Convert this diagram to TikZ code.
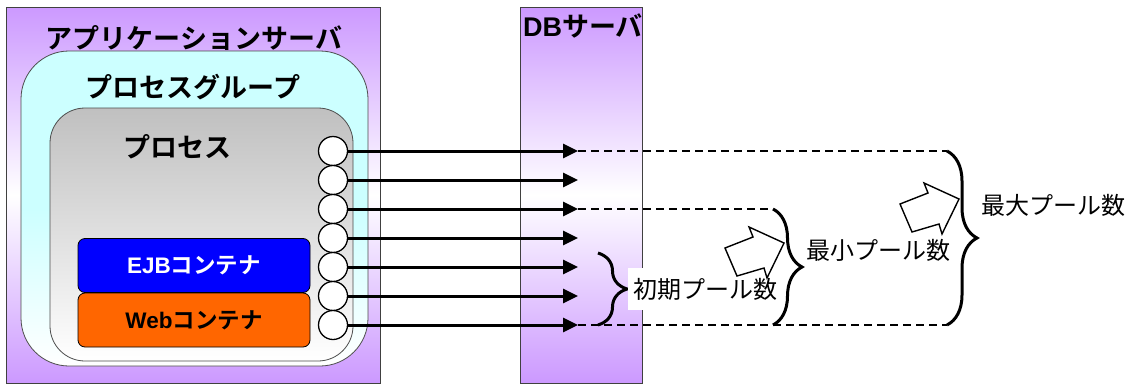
\documentclass[tikz,border=0pt]{standalone}
\usepackage{fontspec}
\usetikzlibrary{arrows.meta,decorations.pathreplacing}
\newfontfamily\jp{Noto Sans CJK JP}[BoldFont={Noto Sans CJK JP Bold}]
\newfontfamily\lat{Liberation Sans}
\definecolor{srvP}{RGB}{204,153,255}
\definecolor{grpC}{RGB}{204,255,255}
\definecolor{procG}{RGB}{192,192,192}
\definecolor{ejbB}{RGB}{0,0,255}
\definecolor{webO}{RGB}{255,102,0}
\tikzset{
  server/.style={draw=black!75, line width=0.8pt, top color=srvP, bottom color=srvP, middle color=white},
  title/.style={font=\jp\bfseries\fontsize{27}{30}\selectfont, inner sep=0pt},
  cont/.style={draw=black, line width=0.8pt, rounded corners=7pt, minimum width=232pt, minimum height=54pt, inner sep=0pt, font=\jp\bfseries\fontsize{22.5}{25}\selectfont},
  port/.style={circle, draw=black, fill=white, line width=1.3pt, minimum size=29pt, inner sep=0pt},
  conn/.style={line width=3pt, -{Triangle[length=15pt,width=14pt]}},
  guide/.style={line width=1.4pt, dash pattern=on 8pt off 5pt},
  brc/.style={line width=3pt, decorate, decoration={brace, amplitude=#1}},
  pool/.style={font=\jp\fontsize{24}{27}\selectfont, inner sep=0pt},
  blk/.style={draw=black, fill=white, line width=1.4pt, line join=miter}
}
\begin{document}
\begin{tikzpicture}[x=1pt,y=-1pt]
\useasboundingbox (0,0) rectangle (1134,383);
% servers
\path[server] (6,7) rectangle (380,383);
\path[server] (520,7) rectangle (642,383);
\node[title, anchor=west] (dbt) at (523,26) {{\lat DB}サーバ};
\node[title] (ast) at (194,38) {アプリケーションサーバ};
% process group
\path[draw=black!70, line width=0.8pt, rounded corners=48pt, top color=grpC, bottom color=white, middle color=grpC] (21,51) rectangle (368,366);
\node[title] (pgt) at (193,87) {プロセスグループ};
% process
\path[draw=black!70, line width=0.8pt, rounded corners=35pt, top color=procG, bottom color=white] (50,108) rectangle (353,361);
\node[title] (pt) at (177,147) {プロセス};
% containers
\node[cont, fill=ejbB, text=white] (ejb) at (194,265.5) {{\lat EJB}コンテナ};
\node[cont, fill=webO, text=black] (web) at (194,320) {{\lat Web}コンテナ};
% ports and connections
\foreach \i/\y in {1/151,2/180,3/209,4/238,5/267,6/296,7/325}{
  \coordinate (t\i) at (578,\y);
  \coordinate (s\i) at (348,\y);
  \draw[conn] (s\i) -- (t\i);
  \node[port] (c\i) at (333,\y) {};
}
% dashed guides
\coordinate (e1) at (947,151);
\coordinate (e3) at (773,209);
\coordinate (e7) at (947,325);
\draw[guide] (t1) -- (e1);
\draw[guide] (t3) -- (e3);
\draw[guide] (t7) -- (e7);
% braces
\coordinate (b1) at (598,253);
\coordinate (b2) at (598,325);
\coordinate (m2) at (773,325);
\draw[brc=29pt] (b1) -- (b2);
\draw[brc=29pt] (e3) -- (m2);
\draw[brc=30pt] (e1) -- (e7);
% labels
\node[pool, fill=white, minimum width=155pt, minimum height=42pt] (init) at (705,289) {初期プール数};
\node[pool] (minl) at (878,250) {最小プール数};
\node[pool] (maxl) at (1053,205) {最大プール数};
% block arrows
\draw[blk] (784,243) -- (749,227) -- (753,237) -- (725,248) -- (737,276) -- (764,268) -- (767,278) -- cycle;
\draw[blk] (959,199) -- (924,183) -- (928,193) -- (900,204) -- (912,232) -- (939,224) -- (942,234) -- cycle;
\end{tikzpicture}
\end{document}
